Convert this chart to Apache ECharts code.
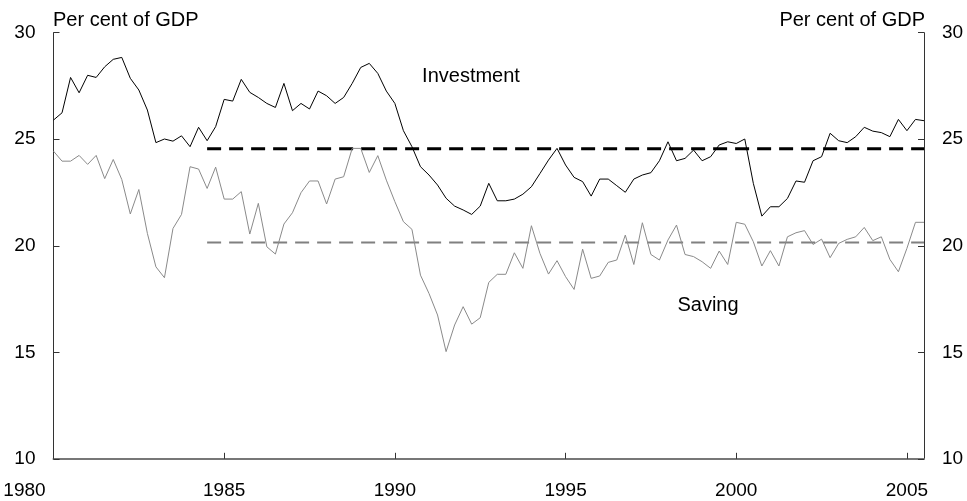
<!DOCTYPE html>
<html>
<head>
<meta charset="utf-8">
<script src="https://cdn.jsdelivr.net/npm/echarts@6/dist/echarts.min.js"></script>
<style>
  html, body { margin: 0; padding: 0; background: #fff; }
  #chart { width: 967px; height: 501px; }
</style>
</head>
<body>
<div id="chart"></div>
<script>
  // quarterly, starting 1980 Q1
  var startYear = 1980;
  var investment = [
    25.90, 26.24, 27.90, 27.18, 28.00, 27.90, 28.40, 28.75, 28.84, 27.86,
    27.31, 26.37, 24.84, 25.01, 24.91, 25.16, 24.65, 25.56, 24.93, 25.59,
    26.87, 26.79, 27.81, 27.20, 26.96, 26.68, 26.49, 27.62, 26.34, 26.68,
    26.42, 27.26, 27.04, 26.68, 26.96, 27.62, 28.37, 28.56, 28.09, 27.26,
    26.68, 25.40, 24.65, 23.71, 23.32, 22.85, 22.23, 21.86, 21.68, 21.47,
    21.86, 22.93, 22.11, 22.11, 22.19, 22.42, 22.77, 23.39, 24.02, 24.57,
    23.79, 23.21, 23.01, 22.33, 23.13, 23.13, 22.82, 22.51, 23.13, 23.32,
    23.43, 23.99, 24.88, 23.99, 24.10, 24.49, 23.99, 24.18, 24.73, 24.88,
    24.80, 25.01, 22.93, 21.39, 21.83, 21.83, 22.22, 23.04, 22.98, 23.99,
    24.18, 25.28, 24.93, 24.84, 25.12, 25.56, 25.38, 25.31, 25.12, 25.93,
    25.40, 25.93, 25.87
  ];
  var saving = [
    24.44, 23.97, 23.97, 24.24, 23.82, 24.24, 23.15, 24.05, 23.11, 21.49,
    22.64, 20.58, 19.01, 18.50, 20.81, 21.47, 23.71, 23.60, 22.69, 23.69,
    22.19, 22.19, 22.54, 20.55, 21.99, 19.95, 19.61, 21.02, 21.55, 22.49,
    23.04, 23.04, 21.96, 23.13, 23.24, 24.57, 24.57, 23.44, 24.23, 23.08,
    22.07, 21.13, 20.77, 18.62, 17.76, 16.75, 15.03, 16.28, 17.14, 16.32,
    16.62, 18.28, 18.66, 18.66, 19.67, 18.94, 20.94, 19.64, 18.67, 19.30,
    18.55, 17.95, 19.84, 18.47, 18.58, 19.22, 19.33, 20.50, 19.12, 21.08,
    19.59, 19.33, 20.27, 20.97, 19.59, 19.49, 19.25, 18.94, 19.75, 19.12,
    21.10, 21.01, 20.19, 19.05, 19.77, 19.05, 20.42, 20.61, 20.71, 20.06,
    20.31, 19.44, 20.11, 20.30, 20.42, 20.86, 20.24, 20.42, 19.36, 18.78,
    19.88, 21.10, 21.10
  ];
  // averages since the float
  var avgPeriod = [1984.5, 2005.5];
  var investmentAvg = 24.55;
  var savingAvg = 20.15;
  var yTicks = [10, 15, 20, 25, 30];

  var font = 'Liberation Sans, Arial, sans-serif';

  function toPoints(arr) {
    return arr.map(function (v, i) { return [startYear + i / 4, v]; });
  }
  function flat(v) {
    return avgPeriod.map(function (t) { return [t, v]; });
  }

  var chart = echarts.init(document.getElementById('chart'));

  var yAxisBase = {
    type: 'value',
    min: yTicks[0],
    max: yTicks[yTicks.length - 1],
    interval: 5,
    splitLine: { show: false },
    axisLine: { show: true, lineStyle: { color: '#333', width: 1 } },
    axisTick: { show: true, inside: true, length: 6, lineStyle: { color: '#333' } },
    axisLabel: { color: '#000', fontSize: 19, fontFamily: font, margin: 18 }
  };

  chart.setOption({
    animation: false,
    grid: { left: 53.5, right: 43, top: 32.7, bottom: 42.2 },
    xAxis: {
      type: 'value',
      min: 1980,
      max: 2005.5,
      interval: 5,
      splitLine: { show: false },
      axisLine: { onZero: false, lineStyle: { color: '#777', width: 2 } },
      axisTick: { inside: true, length: 6, lineStyle: { color: '#333' } },
      axisLabel: {
        color: '#000', fontSize: 19, fontFamily: font, margin: 22,
        showMaxLabel: false,
        formatter: function (v) {
          if (v % 5 !== 0) return '';
          return v === 1980 ? '{first|' + v + '}' : String(v);
        },
        rich: {
          first: { fontSize: 19, fontFamily: font, color: '#000', padding: [0, 58, 0, 0] }
        }
      }
    },
    yAxis: [
      Object.assign({}, yAxisBase, { position: 'left' }),
      Object.assign({}, yAxisBase, { position: 'right' })
    ],
    graphic: [
      { type: 'text', style: { x: 53, y: 20, text: 'Per cent of GDP', fill: '#000', font: '20px ' + font, textAlign: 'left', textVerticalAlign: 'middle' } },
      { type: 'text', style: { x: 925, y: 20, text: 'Per cent of GDP', fill: '#000', font: '20px ' + font, textAlign: 'right', textVerticalAlign: 'middle' } },
      { type: 'text', style: { x: 471, y: 76, text: 'Investment', fill: '#000', font: '20px ' + font, textAlign: 'center', textVerticalAlign: 'middle' } },
      { type: 'text', style: { x: 708, y: 305, text: 'Saving', fill: '#000', font: '20px ' + font, textAlign: 'center', textVerticalAlign: 'middle' } }
    ],
    series: [
      {
        name: 'Saving average', type: 'line', data: flat(savingAvg),
        symbol: 'none', silent: true,
        lineStyle: { color: '#808080', width: 2, type: [14, 8] }
      },
      {
        name: 'Investment average', type: 'line', data: flat(investmentAvg),
        symbol: 'none', silent: true,
        lineStyle: { color: '#000', width: 3, type: [14, 8] }
      },
      {
        name: 'Saving', type: 'line', data: toPoints(saving),
        symbol: 'none',
        lineStyle: { color: '#8a8a8a', width: 1 }
      },
      {
        name: 'Investment', type: 'line', data: toPoints(investment),
        symbol: 'none',
        lineStyle: { color: '#000', width: 1 }
      }
    ]
  });
</script>
</body>
</html>
